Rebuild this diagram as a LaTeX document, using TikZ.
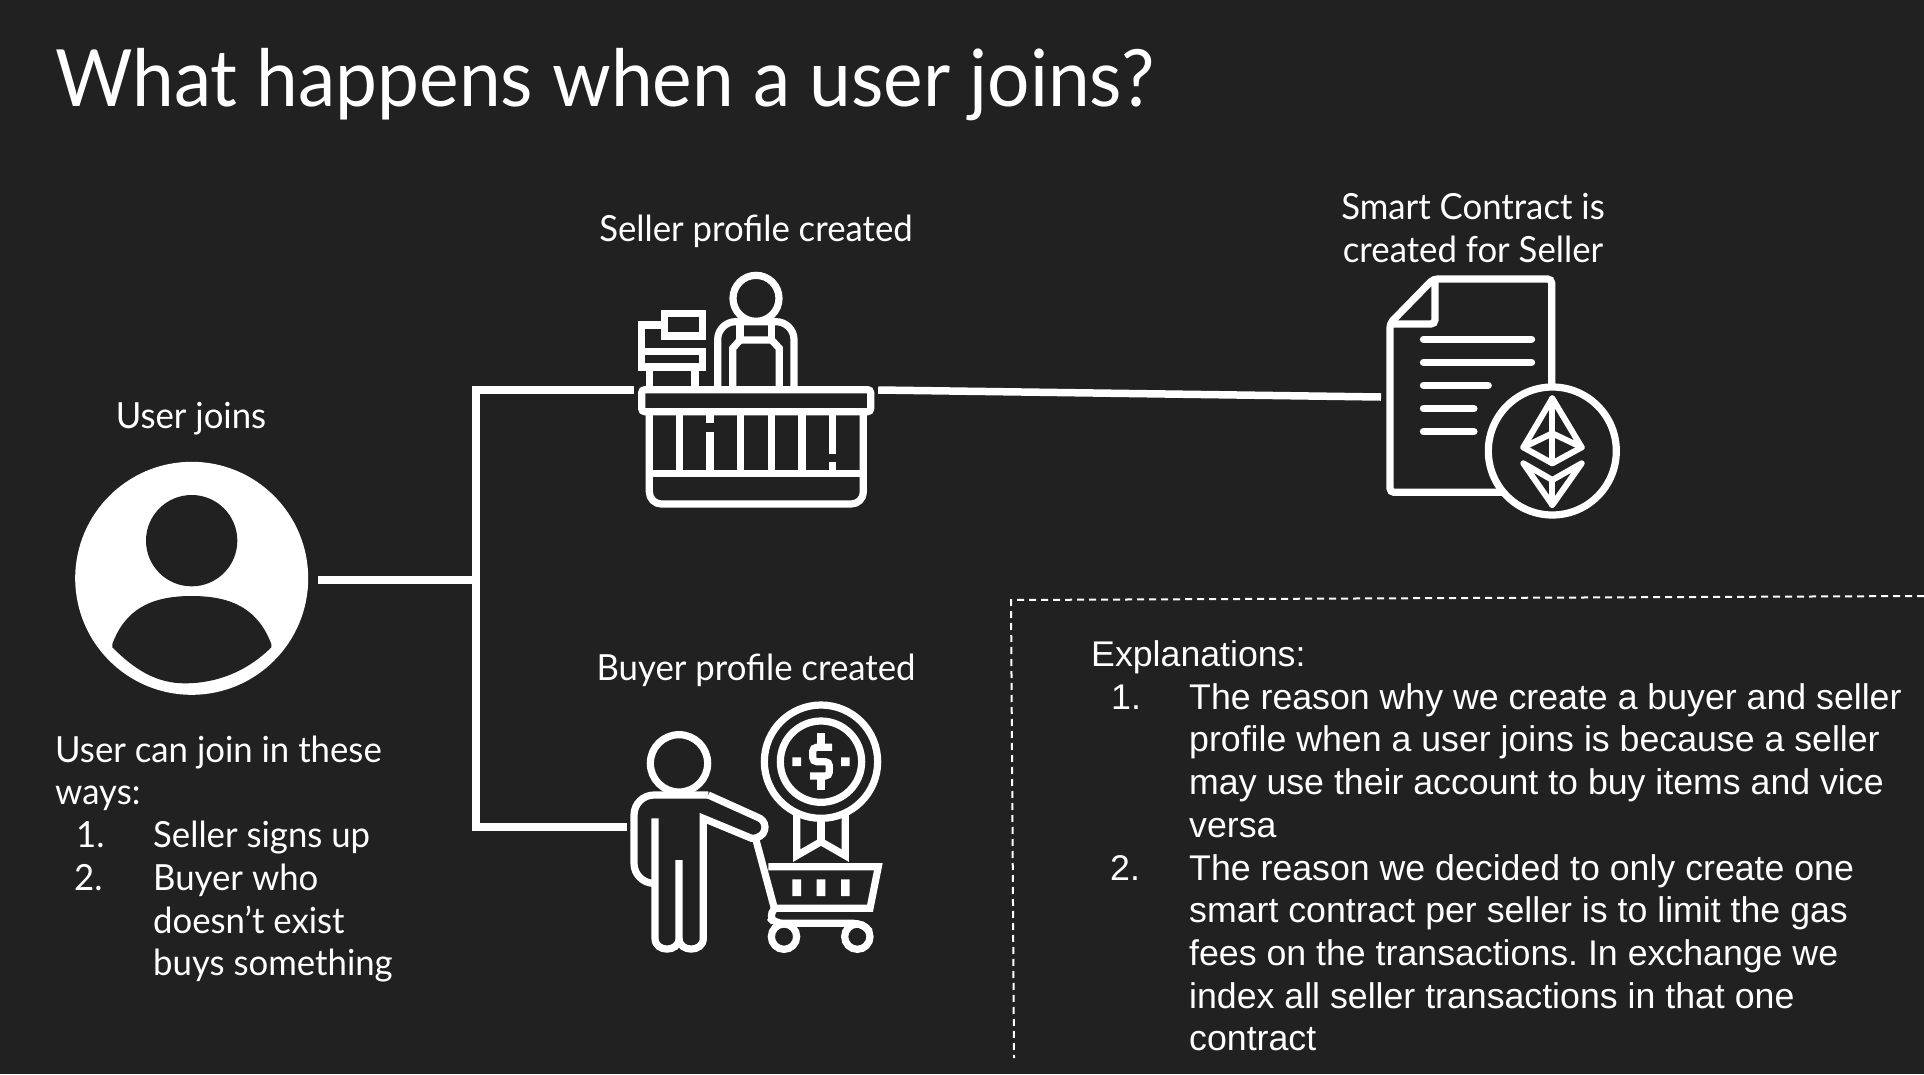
\documentclass[tikz,border=0pt]{standalone}
\usepackage{fontspec}
\setmainfont{Liberation Sans}
\newfontfamily\jost[FakeStretch=0.965]{Lato}
\newfontfamily\josttitle[FakeStretch=0.947]{Lato}
\definecolor{bg}{HTML}{212121}
\frenchspacing
\tikzset{
  ico/.style={draw=white,line width=7.2pt,line join=miter,fill=none},
  thin ico/.style={draw=white,line width=6pt,line cap=round,line join=round},
  wire/.style={draw=white,line width=7.5pt},
  lab/.style={text=white,inner sep=0pt,anchor=base,font=\jost\fontsize{36}{36}\selectfont},
  labl/.style={text=white,inner sep=0pt,anchor=base west,font=\jost\fontsize{36}{36}\selectfont},
  expl/.style={text=white,inner sep=0pt,anchor=base west,font=\fontsize{35.7}{36}\selectfont},
  anchorbox/.style={inner sep=0pt,minimum height=10pt}
}
\begin{document}
\begin{tikzpicture}[x=1pt,y=-1pt]
\useasboundingbox (0,0) rectangle (1924,1074);
\fill[bg] (0,0) rectangle (1924,1074);
% title
\node[text=white,inner sep=0pt,anchor=base west,font=\josttitle\fontsize{79}{79}\selectfont] (title) at (55,106) {What happens when a user joins?};
% user
\node[circle,fill=white,inner sep=0pt,minimum size=233pt,outer sep=0pt] (user) at (191.7,578.3) {};
\begin{scope}[shift={(60,440)},x=0.33333pt,y=-0.33333pt]
\fill[bg] (395,302) circle [radius=137];
\fill[bg] (157,612) .. controls (195,510) and (270,468) .. (395,468) .. controls (520,468) and (595,510) .. (634,612) -- (634,622) .. controls (560,695) and (470,730) .. (375,730) .. controls (290,730) and (225,690) .. (157,622) -- cycle;
\end{scope}
% seller icon
\node[anchorbox,minimum width=244pt] (seller) at (756,390) {};
\begin{scope}[shift={(620,250)},x=0.33333pt,y=-0.33333pt]
\draw[ico,rounded corners=3pt] (65,419) rectangle (752,485);
\draw[ico,rounded corners=12pt] (88,485) -- (88,762) -- (730,762) -- (730,485);
\draw[ico] (88,670) -- (730,670);
\draw[ico] (178,485) -- (178,670);
\draw[ico] (270,495) -- (270,520) (270,545) -- (270,670);
\draw[ico] (362,485) -- (362,670) (454,485) -- (454,670) (546,485) -- (546,670);
\draw[ico] (638,485) -- (638,612) (638,635) -- (638,670);
\draw[ico] (408,145) circle [radius=69];
\draw[ico,rounded corners=18pt] (293,410) -- (293,215) -- (522,215) -- (522,410);
\draw[ico] (338,410) -- (338,295) -- (360,270) -- (455,270) -- (478,295) -- (478,410);
\draw[ico] (360,220) -- (360,270) (455,220) -- (455,270);
\draw[ico] (133,191) rectangle (248,258);
\draw[ico] (133,225) -- (65,225) -- (65,351) -- (248,351) -- (248,305) -- (65,305);
\draw[ico] (88,351) -- (88,419) (225,351) -- (225,419);
\end{scope}
% buyer icon
\node[anchorbox,minimum width=244pt,anchor=west] (buyer) at (627,827) {};
\begin{scope}[shift={(620,690)},x=0.33333pt,y=-0.33333pt]
\draw[ico] (177,220) circle [radius=86];
\draw[ico] (105,385) -- (105,745) .. controls (105,788) and (177,788) .. (177,745) -- (177,510);
\draw[ico] (177,745) .. controls (177,788) and (250,788) .. (250,745) -- (250,385) -- (395,445) .. controls (440,445) and (445,400) .. (420,385) -- (265,315);
\draw[ico,rounded corners=20pt] (265,315) -- (42,315) -- (42,580) -- (95,580);
\draw[ico] (408,450) -- (465,662);
\draw[ico] (445,530) -- (775,530) -- (750,655) -- (465,655);
\draw[ico,rounded corners=8pt] (465,655) -- (445,678) -- (465,700) -- (725,700) -- (750,725);
\draw[ico] (492,740) circle [radius=38];
\draw[ico] (712,740) circle [radius=38];
\fill[white] (517,568) rectangle (543,618) (590,568) rectangle (616,618) (663,568) rectangle (689,618);
\draw[ico] (603,215) circle [radius=170];
\draw[ico] (603,215) circle [radius=122];
\fill[white] (517,202) rectangle (543,228) (663,202) rectangle (689,228);
\draw[ico,rounded corners=4pt] (636,172) -- (578,172) -- (578,215) -- (628,215) -- (628,258) -- (570,258);
\draw[ico] (603,130) -- (603,172) (603,258) -- (603,300);
\draw[ico] (530,375) -- (530,497) -- (603,455) -- (676,497) -- (676,375);
\draw[ico] (603,390) -- (603,455);
\end{scope}
% contract icon
\node[anchorbox,minimum width=244pt,anchor=west] (contract) at (1381,397) {};
\begin{scope}[shift={(1370,260)},x=0.33333pt,y=-0.33333pt]
\draw[ico,rounded corners=4pt] (545,380) -- (545,57) -- (190,57) -- (60,190) -- (60,697) -- (400,697);
\draw[ico,rounded corners=4pt] (195,57) -- (195,192) -- (60,192);
\draw[thin ico,line width=7pt] (160,238) -- (485,238) (160,307) -- (485,307) (160,376) -- (355,376) (160,446) -- (312,446) (160,515) -- (312,515);
\draw[ico,fill=bg] (547,573) circle [radius=192];
\draw[thin ico] (547,415) -- (460,562) -- (547,610) -- (635,562) -- cycle;
\draw[thin ico] (547,415) -- (547,610);
\draw[thin ico] (460,562) -- (547,520) -- (635,562);
\draw[thin ico] (460,610) -- (547,660) -- (635,610) -- (547,735) -- cycle;
\draw[thin ico] (547,660) -- (547,735);
\end{scope}
% connectors
\coordinate (j) at (476,580);
\coordinate (ustart) at ([shift={(10,1.7)}]user.east);
\draw[wire] (ustart) -- (j);
\draw[wire] (seller.west) -| (j);
\draw[wire] (buyer.west) -| (j);
\draw[wire] (seller.east) -- (contract.west);
% labels
\node[lab] (lseller) at (756,241) {Seller profile created};
\node[lab] (lbuyer) at (756,680) {Buyer profile created};
\node[lab] (lsc1) at (1473,219) {Smart Contract is};
\node[lab] (lsc2) at (1473,262) {created for Seller};
\node[lab] (luser) at (191,428) {User joins};
\node[labl] (w1) at (55,762) {User can join in these};
\node[labl] (w2) at (55,804) {ways:};
\node[labl] (n1) at (76,847) {1.};
\node[labl] (w3) at (153,847) {Seller signs up};
\node[labl] (n2) at (74,890) {2.};
\node[labl] (w4) at (153,890) {Buyer who};
\node[labl] (w5) at (153,933) {doesn’t exist};
\node[labl] (w6) at (153,975) {buys something};
% explanations
\coordinate (d1) at (1011,600);
\coordinate (d2) at (1924,596);
\coordinate (d3) at (1014,1058);
\draw[white,line width=2pt,dash pattern=on 7pt off 5pt] (d2) -- (d1) -- (d3);
\node[expl] (e0) at (1091,666) {Explanations:};
\node[expl] (en1) at (1111,709) {1.};
\node[expl] (e1) at (1189,709) {The reason why we create a buyer and seller};
\node[expl] (e2) at (1189,751) {profile when a user joins is because a seller};
\node[expl] (e3) at (1189,794) {may use their account to buy items and vice};
\node[expl] (e4) at (1189,837) {versa};
\node[expl] (en2) at (1110,880) {2.};
\node[expl] (e5) at (1189,880) {The reason we decided to only create one};
\node[expl] (e6) at (1189,922) {smart contract per seller is to limit the gas};
\node[expl] (e7) at (1189,965) {fees on the transactions. In exchange we};
\node[expl] (e8) at (1189,1008) {index all seller transactions in that one};
\node[expl] (e9) at (1189,1050) {contract};
\end{tikzpicture}
\end{document}
